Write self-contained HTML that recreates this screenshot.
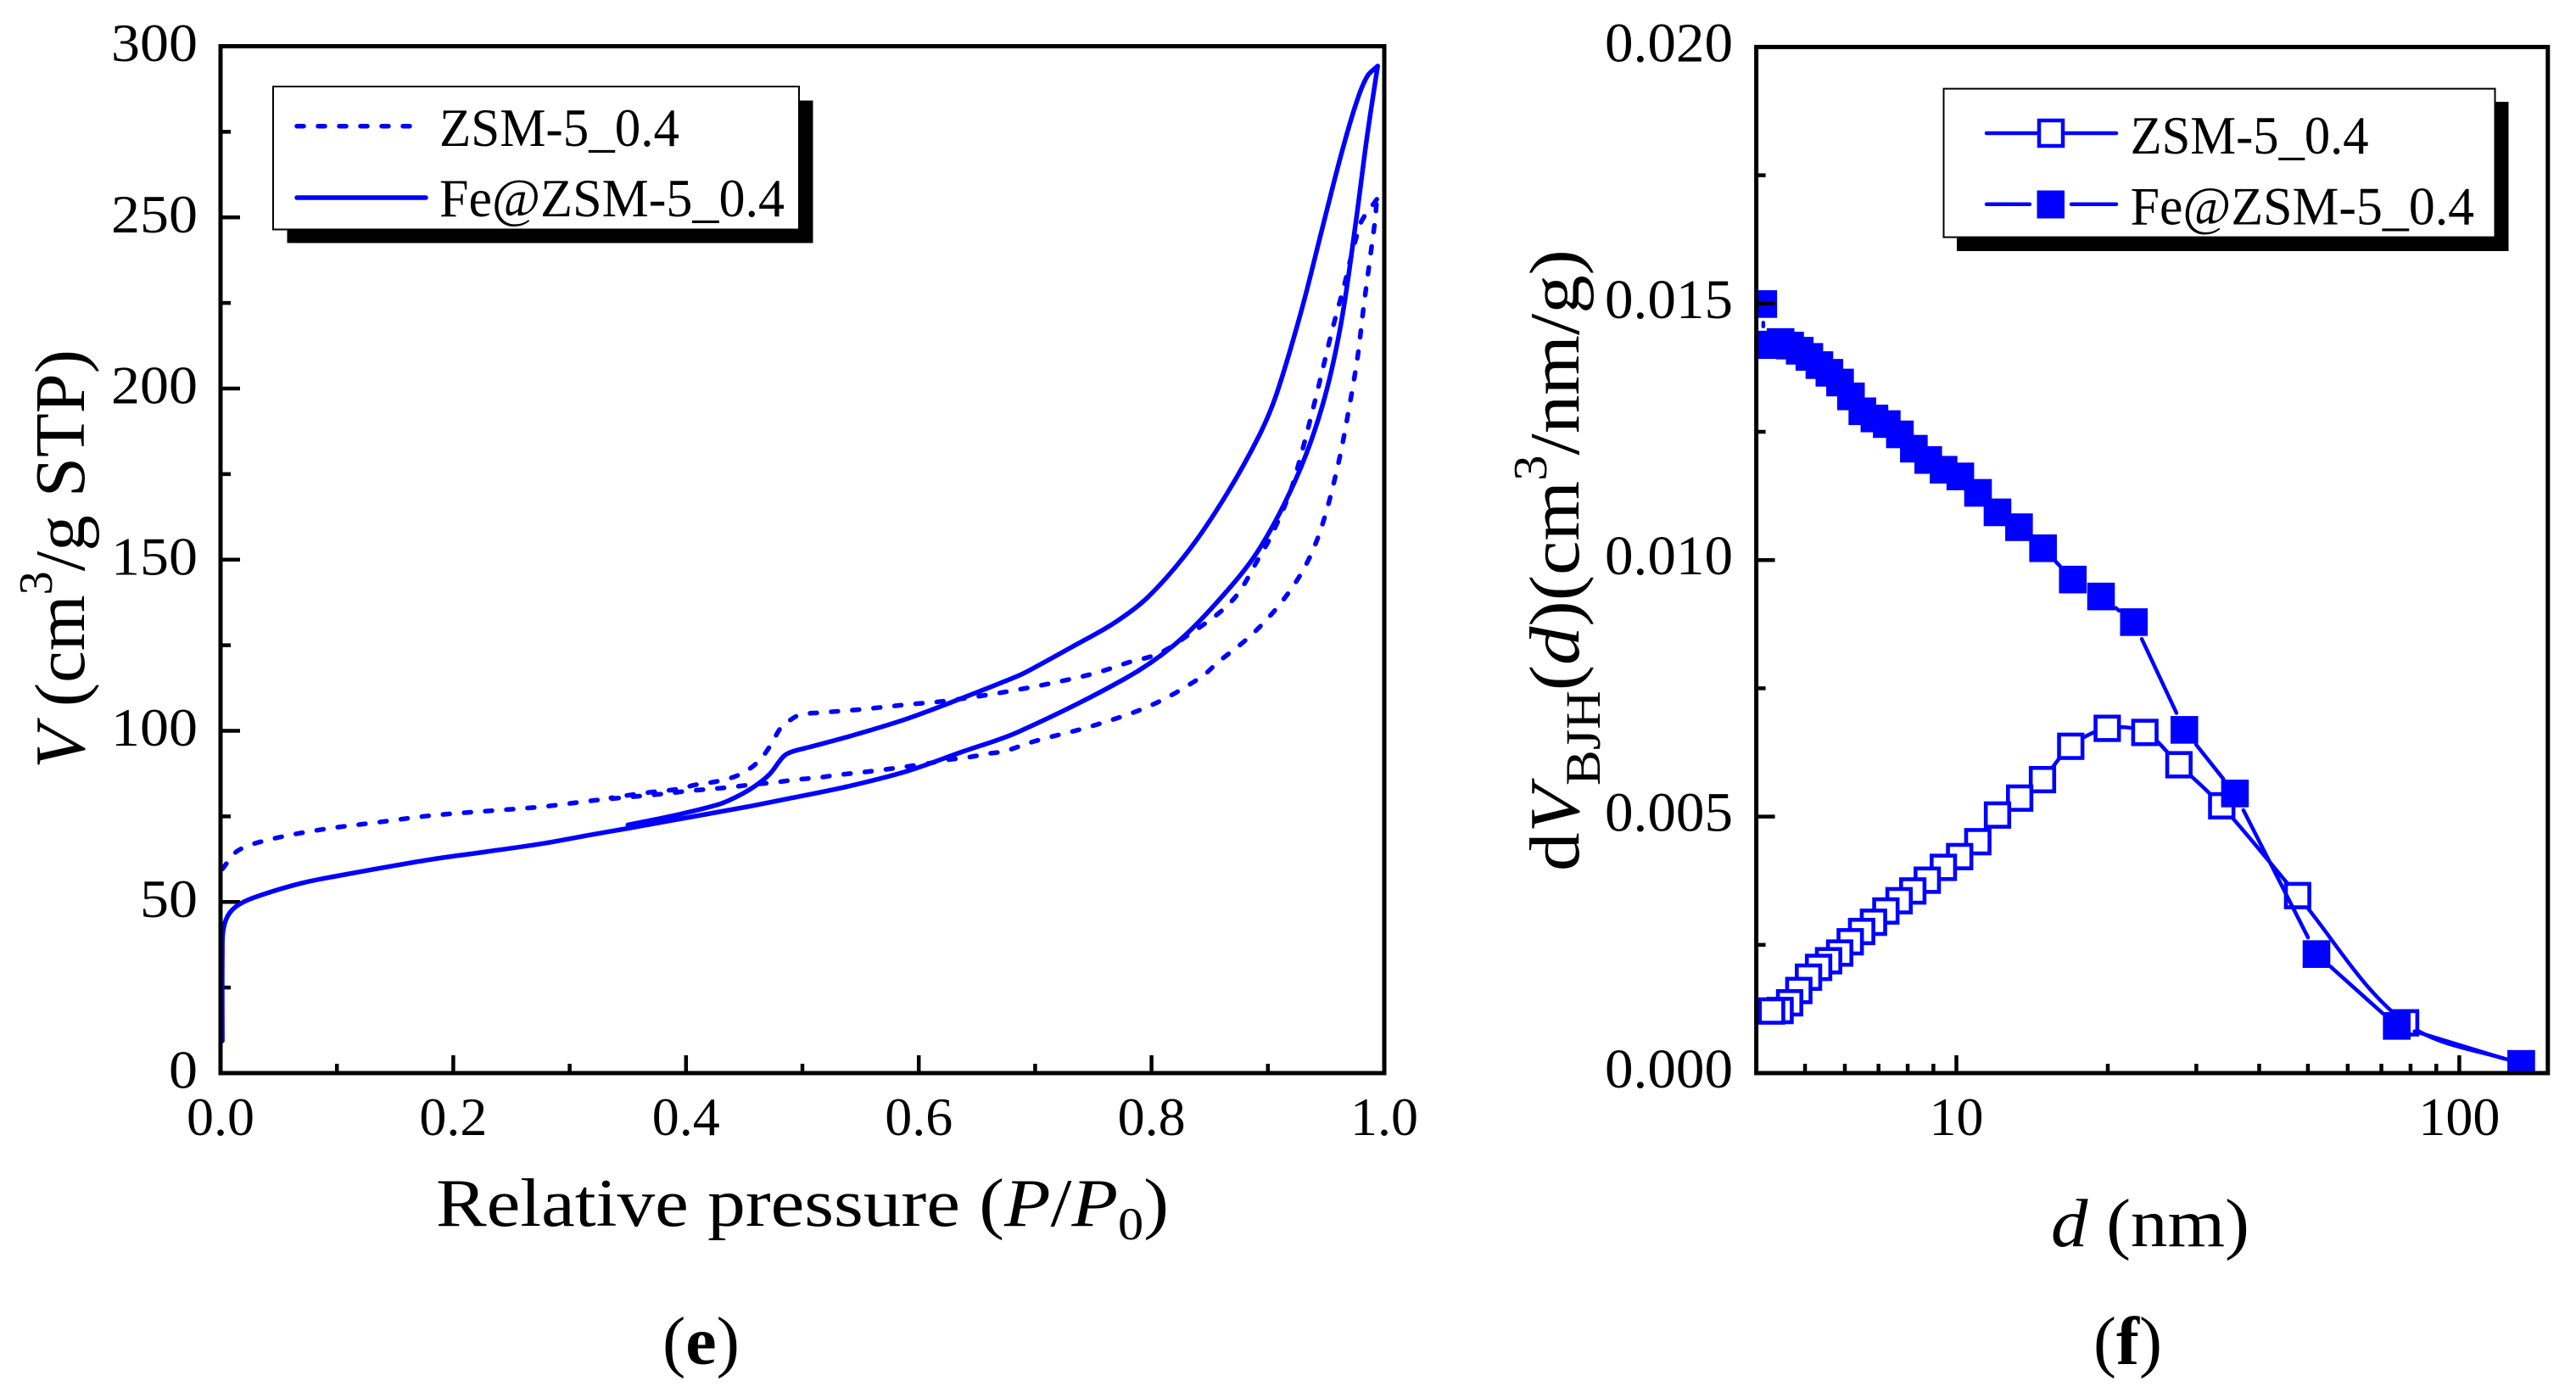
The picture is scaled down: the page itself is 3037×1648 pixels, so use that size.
<!DOCTYPE html>
<html lang="en">
<head>
<meta charset="utf-8">
<title>Isotherm and BJH pore size distribution</title>
<style>
html,body{margin:0;padding:0;background:#fff;}
svg{display:block;}
text{font-family:"Liberation Serif",serif;fill:#000;}
</style>
</head>
<body>
<svg id="figure" xmlns="http://www.w3.org/2000/svg" width="3037" height="1648" viewBox="0 0 3037 1648">
<defs>
<clipPath id="clip-f"><rect x="2070.6" y="54" width="933.4" height="1211"/></clipPath>
</defs>
<rect x="0" y="0" width="3037" height="1648" fill="#fff"/>
<g id="panel-e"></g>
<g id="panel-f"></g>

<text x="514" y="1445" font-size="80" textLength="864" lengthAdjust="spacingAndGlyphs">Relative pressure (<tspan font-style="italic">P</tspan>/<tspan font-style="italic">P</tspan><tspan font-size="54" dy="16">0</tspan><tspan dy="-16">)</tspan></text>
<text transform="translate(99,906) rotate(-90)" font-size="84" textLength="494" lengthAdjust="spacingAndGlyphs"><tspan font-style="italic">V</tspan> (cm<tspan font-size="56" dy="-38">3</tspan><tspan dy="38">/g STP)</tspan></text>
<text x="2418" y="1469" font-size="80" textLength="234" lengthAdjust="spacingAndGlyphs"><tspan font-style="italic">d</tspan> (nm)</text>
<text transform="translate(1861,1027) rotate(-90)" font-size="84" textLength="733" lengthAdjust="spacingAndGlyphs">d<tspan font-style="italic">V</tspan><tspan font-size="58" dy="25">BJH</tspan><tspan dy="-25">(</tspan><tspan font-style="italic">d</tspan>)(cm<tspan font-size="56" dy="-38">3</tspan><tspan dy="38">/nm/g)</tspan></text>
<text x="781" y="1608" font-size="80" textLength="91" lengthAdjust="spacingAndGlyphs">(<tspan font-weight="bold">e</tspan>)</text>
<text x="2468" y="1608" font-size="80" textLength="81" lengthAdjust="spacingAndGlyphs">(<tspan font-weight="bold">f</tspan>)</text>

<g>
<rect x="338.5" y="118.5" width="620" height="168" fill="#000"/>
<rect x="322" y="102" width="620" height="168.5" fill="#fff" stroke="#000" stroke-width="2"/>
<line x1="350" y1="148.7" x2="490" y2="148.7" stroke="#00f" stroke-width="5.5" stroke-linecap="round" stroke-dasharray="8 17"/>
<text x="518" y="172" font-size="64" textLength="283" lengthAdjust="spacingAndGlyphs">ZSM-5_0.4</text>
<line x1="350" y1="233" x2="502" y2="233" stroke="#00f" stroke-width="5.5" stroke-linecap="round"/>
<text x="518" y="255" font-size="64" textLength="407" lengthAdjust="spacingAndGlyphs">Fe@ZSM-5_0.4</text>
</g>
<g>
<rect x="2307" y="120" width="650.5" height="176" fill="#000"/>
<rect x="2291.5" y="104.6" width="650" height="175" fill="#fff" stroke="#000" stroke-width="2"/>
<line x1="2342" y1="157" x2="2495" y2="157" stroke="#00f" stroke-width="4.5" stroke-linecap="round"/>
<rect x="2404" y="142" width="28" height="30" fill="#fff" stroke="#00f" stroke-width="4.5"/>
<text x="2511.6" y="181" font-size="64" textLength="281" lengthAdjust="spacingAndGlyphs">ZSM-5_0.4</text>
<line x1="2342" y1="240.8" x2="2393" y2="240.8" stroke="#00f" stroke-width="4.5" stroke-linecap="round"/>
<line x1="2442" y1="240.8" x2="2495" y2="240.8" stroke="#00f" stroke-width="4.5" stroke-linecap="round"/>
<rect x="2401.5" y="224.5" width="32.5" height="33" fill="#00f"/>
<text x="2511.6" y="264.3" font-size="64" textLength="405.5" lengthAdjust="spacingAndGlyphs">Fe@ZSM-5_0.4</text>
</g>
</svg>
<script>
// ---- Panel (e): isotherm data ----
const feAdsP = [0.0015,0.0015,0.0025,0.008,0.0197,0.043,0.0709,0.0987,0.136,0.1825,0.229,0.2755,0.321,0.35,0.389,0.457,0.491,0.5395,0.588,0.6367,0.685,0.777,0.8195,0.855,0.891,0.9236,0.9465,0.9627,0.9757,0.9855,0.9943];
const feAdsV = [9.4,34.8,42.2,46.9,50.0,52.9,55.6,57.5,59.8,62.5,64.7,67.0,69.8,71.5,73.9,78.1,80.4,83.8,88.0,93.8,99.6,115.2,125.1,137.1,152.3,173.2,194.6,218.7,249,274.3,294.2];
const feDesP = [0.9943,0.9855,0.9757,0.9627,0.9465,0.9286,0.9074,0.8927,0.865,0.8325,0.7967,0.7674,0.7316,0.6958,0.685,0.6368,0.588,0.5395,0.5055,0.491,0.4837,0.4715,0.459,0.445,0.428,0.389,0.35];
const feDesV = [294.2,291.3,283.2,268,246.5,222.5,198.4,186.4,169.4,152.9,139,131.4,124.5,117.8,116,109.5,103.3,98.3,95.2,93.9,92.5,87.2,83.8,81,78.5,75.2,72.5];
const zsmAdsP = [0.0015,0.015,0.043,0.0895,0.136,0.1825,0.2755,0.322,0.359,0.3816,0.401,0.418,0.4375,0.457,0.476,0.4934,0.5128,0.53,0.549,0.5687,0.588,0.605,0.6246,0.6429,0.661,0.6733,0.7,0.75,0.8,0.8423,0.857,0.8846,0.9106,0.9318,0.9465,0.961,0.9709,0.9773,0.9822,0.9871,0.992,0.9936];
const zsmAdsV = [59.6,65,68.3,71.3,73.3,75.3,77.8,79.7,80.9,81.6,82.4,82.9,83.5,84.3,84.9,85.7,86.3,87.1,87.8,88.6,89.5,90.3,91.5,92.3,93.4,94,97,101.5,107.5,115.6,120,127.6,137.1,147.9,159.9,178.8,196.5,209.8,223.7,236.3,248.9,255.3];
const zsmDesP = [0.9936,0.9806,0.9757,0.9699,0.966,0.961,0.9546,0.9465,0.9383,0.9286,0.9187,0.9025,0.891,0.8748,0.8586,0.8325,0.8065,0.7805,0.7479,0.685,0.6246,0.588,0.5517,0.5153,0.4982,0.4885,0.4812,0.4727,0.4618,0.446,0.4278,0.4095,0.3913,0.3731,0.3548,0.3354];
const zsmDesV = [255.3,249,243.9,236.3,230.7,224.4,216.2,204.8,193.4,180.7,169.4,156.7,149.8,140.3,134.6,128.2,122.6,120,116.5,112,108.8,107.6,106.3,105.3,104.7,102.9,100.8,95.8,90.9,87.2,85.3,84.3,82.9,82.2,81.4,80.4];
const eXTicks = ["0.0","0.2","0.4","0.6","0.8","1.0"];
const eYTicks = ["0","50","100","150","200","250","300"];

// ---- Panel (f): BJH data ----
const zsmD = [4.29,4.46,4.66,4.86,5.08,5.32,5.57,5.86,6.15,6.48,6.84,7.24,7.69,8.19,8.75,9.42,10.15,11.03,12.07,13.36,14.83,16.88,19.95,23.7,27.7,33.7,47.7,78.2,132.8];
const zsmVol = [0.00121,0.00122,0.00137,0.00161,0.00187,0.00206,0.00219,0.00234,0.00256,0.00276,0.00294,0.00316,0.00336,0.00355,0.00376,0.00401,0.00422,0.00451,0.00503,0.00536,0.00572,0.00637,0.00672,0.00664,0.00601,0.00521,0.00346,0.00098,0.00018];
const feD = [4.13,4.13,4.29,4.47,4.67,4.88,5.10,5.34,5.59,5.87,6.17,6.50,6.87,7.27,7.72,8.23,8.79,9.43,10.18,11.04,12.07,13.32,14.87,17.04,19.39,22.54,28.4,35.8,52.0,75.1,132.8];
const feVol = [0.01499,0.01419,0.0142,0.01425,0.01418,0.01408,0.01396,0.0138,0.01365,0.01346,0.01319,0.0129,0.01276,0.01265,0.01245,0.01217,0.01195,0.01176,0.01163,0.01131,0.01093,0.01064,0.01023,0.00962,0.00929,0.00879,0.00669,0.00545,0.00232,0.00092,0.00018];
const fXTicks = ["10","100"];
const fXMinor = [5,6,7,8,9,20,30,40,50,60,70,80,90];
const fYTicks = ["0.000","0.005","0.010","0.015","0.020"];

// ---- Axis functions ----
const eLeft = 260, eRight = 1632, eTop = 54.5, eBottom = 1265;
const fLeft = 2070.6, fRight = 3003.8, fTop = 55.4, fBottom = 1265;
function eX(p){ return eLeft + p * (eRight - eLeft); }
function eY(v){ return eBottom - v / 300 * (eBottom - eTop); }
function fX(d){ return fLeft + Math.log10(d / 4) / Math.log10(150 / 4) * (fRight - fLeft); }
function fY(v){ return fBottom - v / 0.02 * (fBottom - fTop); }

const NS = 'http://www.w3.org/2000/svg';
function mk(parent, tag, name, attrs, txt){
  const el = document.createElementNS(NS, tag);
  
  
  for (const k in attrs) el.setAttribute(k, attrs[k]);
  if (txt !== undefined) el.textContent = txt;
  parent.appendChild(el);
  return el;
}
function tangent(xs, ys, i){
  const a = Math.max(i - 1, 0), b = Math.min(i + 1, xs.length - 1);
  const dx = xs[b] - xs[a], dy = ys[b] - ys[a];
  const len = Math.hypot(dx, dy) || 1;
  return [dx / len, dy / len];
}
function smoothPath(xs, ys){
  let d = 'M' + xs[0].toFixed(1) + ' ' + ys[0].toFixed(1);
  for (let i = 0; i < xs.length - 1; i++){
    const L = Math.hypot(xs[i + 1] - xs[i], ys[i + 1] - ys[i]) / 3;
    const t0 = tangent(xs, ys, i), t1 = tangent(xs, ys, i + 1);
    d += 'C' + (xs[i] + t0[0] * L).toFixed(1) + ' ' + (ys[i] + t0[1] * L).toFixed(1) + ' ' +
         (xs[i + 1] - t1[0] * L).toFixed(1) + ' ' + (ys[i + 1] - t1[1] * L).toFixed(1) + ' ' +
         xs[i + 1].toFixed(1) + ' ' + ys[i + 1].toFixed(1);
  }
  return d;
}
function frame(g, name, l, t, r, b){
  mk(g, 'rect', name, {x:l, y:t, width:r-l, height:b-t, fill:'none', stroke:'#000', 'stroke-width':5});
}
function tick(g, name, x1, y1, x2, y2){
  mk(g, 'line', name, {x1:x1, y1:y1, x2:x2, y2:y2, stroke:'#000', 'stroke-width':4.5});
}

// ---- Draw panel (e) ----
const ge = document.getElementById('panel-e');
eXTicks.forEach(function(lbl){
  const x = eX(parseFloat(lbl));
  if (parseFloat(lbl) > 0 && parseFloat(lbl) < 1) tick(ge, 'x-major-tick', x, eBottom, x, eBottom - 21);
  mk(ge, 'text', 'x-tick-label', {x:x, y:1338, 'font-size':64, 'text-anchor':'middle'}, lbl);
  const m = parseFloat(lbl) + 0.1;
  if (m < 1) tick(ge, 'x-minor-tick', eX(m), eBottom, eX(m), eBottom - 11);
});
eYTicks.forEach(function(lbl){
  const v = parseFloat(lbl), y = eY(v);
  if (v > 0 && v < 300) tick(ge, 'y-major-tick', eLeft, y, eLeft + 23, y);
  mk(ge, 'text', 'y-tick-label', {x:233, y:y + 17.5, 'font-size':64, 'text-anchor':'end', textLength:lbl.length * 34, lengthAdjust:'spacingAndGlyphs'}, lbl);
  if (v < 300) tick(ge, 'y-minor-tick', eLeft, eY(v + 25), eLeft + 12, eY(v + 25));
});
const dashAttrs = {fill:'none', stroke:'#00f', 'stroke-width':5.5, 'stroke-linecap':'round', 'stroke-dasharray':'8 17'};
const solidAttrs = {fill:'none', stroke:'#00f', 'stroke-width':5.5, 'stroke-linecap':'round', 'stroke-linejoin':'round'};
mk(ge, 'path', 'zsm-adsorption-curve', Object.assign({d:smoothPath(zsmAdsP.map(eX), zsmAdsV.map(eY))}, dashAttrs));
mk(ge, 'path', 'zsm-desorption-curve', Object.assign({d:smoothPath(zsmDesP.map(eX), zsmDesV.map(eY))}, dashAttrs));
mk(ge, 'path', 'fe-adsorption-curve', Object.assign({d:smoothPath(feAdsP.map(eX), feAdsV.map(eY))}, solidAttrs));
mk(ge, 'path', 'fe-desorption-curve', Object.assign({d:smoothPath(feDesP.map(eX), feDesV.map(eY))}, solidAttrs));
frame(ge, 'isotherm-plot-frame', eLeft, eTop, eRight, eBottom);

// ---- Draw panel (f) ----
const gf = document.getElementById('panel-f');
const clipGroup = mk(gf, 'g', 'pore-series', {'clip-path':'url(#clip-f)'});
mk(clipGroup, 'path', 'zsm-pore-line', {d:smoothPath(zsmD.map(fX), zsmVol.map(fY)), fill:'none', stroke:'#00f', 'stroke-width':4.5});
for (let i = zsmD.length - 1; i >= 0; i--){
  mk(clipGroup, 'rect', 'zsm-point', {x:fX(zsmD[i]) - 13.8, y:fY(zsmVol[i]) - 13.8, width:27.6, height:27.6, fill:'#fff', stroke:'#00f', 'stroke-width':4.6});
}
const markerGap = 22;
for (let i = 0; i < feD.length - 1; i++){
  const x1 = fX(feD[i]), y1 = fY(feVol[i]), x2 = fX(feD[i + 1]), y2 = fY(feVol[i + 1]);
  const len = Math.hypot(x2 - x1, y2 - y1);
  if (len > markerGap * 2 + 2){
    const ux = (x2 - x1) / len, uy = (y2 - y1) / len;
    mk(clipGroup, 'line', 'fe-pore-line-segment', {x1:x1 + ux * markerGap, y1:y1 + uy * markerGap, x2:x2 - ux * markerGap, y2:y2 - uy * markerGap, stroke:'#00f', 'stroke-width':4.5, 'stroke-linecap':'round'});
  }
}
for (let i = 0; i < feD.length; i++){
  mk(clipGroup, 'rect', 'fe-point', {x:fX(feD[i]) - 16.3, y:fY(feVol[i]) - 16.3, width:32.6, height:32.6, fill:'#00f'});
}
fXTicks.forEach(function(lbl){
  const x = fX(parseFloat(lbl));
  tick(gf, 'log-major-tick', x, fBottom, x, fBottom - 21);
  mk(gf, 'text', 'log-tick-label', {x:x, y:1338, 'font-size':64, 'text-anchor':'middle'}, lbl);
});
fXMinor.forEach(function(d){
  tick(gf, 'log-minor-tick', fX(d), fBottom, fX(d), fBottom - 11);
});
fYTicks.forEach(function(lbl){
  const v = parseFloat(lbl), y = fY(v);
  if (v > 0 && v < 0.02) tick(gf, 'pore-y-major-tick', fLeft, y, fLeft + 22, y);
  mk(gf, 'text', 'pore-y-tick-label', {x:2043, y:y + 17, 'font-size':66, 'text-anchor':'end', textLength:151, lengthAdjust:'spacingAndGlyphs'}, lbl);
  if (v < 0.02) tick(gf, 'pore-y-minor-tick', fLeft, fY(v + 0.0025), fLeft + 11, fY(v + 0.0025));
});
frame(gf, 'pore-plot-frame', fLeft, fTop, fRight, fBottom);
</script>
</body>
</html>
